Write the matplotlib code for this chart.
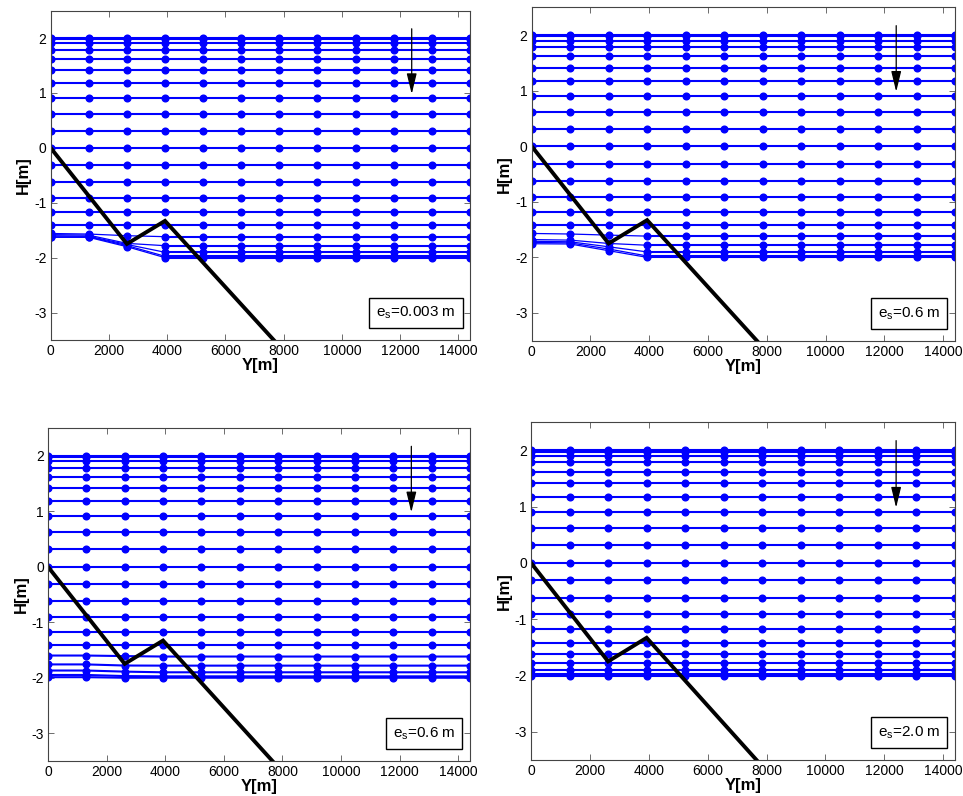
import matplotlib
matplotlib.use("Agg")
import matplotlib.pyplot as plt

plt.rcParams['font.family'] = ['Liberation Sans', 'DejaVu Sans']
plt.rcParams['mathtext.fontset'] = 'custom'
plt.rcParams['mathtext.rm'] = 'Liberation Sans'
plt.rcParams['axes.unicode_minus'] = False

# ---------- data ----------
# grid nodes along the section [m]
Y_NODES = [0, 1309, 2618, 3927, 5236, 6545, 7855, 9164, 10473, 11782, 13091, 14400]

# water levels [m]
LEVELS = [2.0, 1.975, 1.902, 1.782, 1.618, 1.414, 1.176, 0.908, 0.618, 0.313, 0.0,
          -0.313, -0.618, -0.908, -1.176, -1.414, -1.618, -1.782, -1.902, -1.975, -2.0]

# bed profile
BED_Y = [0, 2618, 3927, 7660]
BED_H = [0.0, -1.75, -1.33, -3.5]

# heads of the five lowest levels at the first three nodes, per case
NEAR_003 = [[-1.56, -1.57, -1.60],
            [-1.58, -1.59, -1.74],
            [-1.60, -1.61, -1.76],
            [-1.62, -1.62, -1.78],
            [-1.63, -1.63, -1.80]]
NEAR_06A = [[-1.57, -1.58, -1.60],
            [-1.68, -1.69, -1.75],
            [-1.71, -1.72, -1.81],
            [-1.73, -1.74, -1.85],
            [-1.755, -1.76, -1.88]]
NEAR_06B = [[-1.60, -1.60, -1.61],
            [-1.76, -1.76, -1.78],
            [-1.87, -1.87, -1.89],
            [-1.95, -1.95, -1.97],
            [-1.99, -1.99, -2.0]]
NEAR_20 = None

CASE_LABELS = ["0.003", "0.6", "0.6", "2.0"]
CASE_NEAR = [NEAR_003, NEAR_06A, NEAR_06B, NEAR_20]
CASE_THIN = [True, True, False, False]

X_TICKS = [0, 2000, 4000, 6000, 8000, 10000, 12000, 14000]
H_TICKS = [-3, -2, -1, 0, 1, 2]

# axes boxes in figure fractions
AX_POS = [[0.0526, 0.5729, 0.4354, 0.4137],
          [0.5521, 0.5720, 0.4396, 0.4188],
          [0.0498, 0.0440, 0.4382, 0.4183],
          [0.5514, 0.0452, 0.4403, 0.4246]]

BLUE = '#0000ff'

fig = plt.figure(figsize=(9.63, 7.96), dpi=100)

for pos, lab, near, thin in zip(AX_POS, CASE_LABELS, CASE_NEAR, CASE_THIN):
    ax = fig.add_axes(pos)
    n_low = len(LEVELS) - 5
    for i, h in enumerate(LEVELS):
        heads = [h] * len(Y_NODES)
        if near is not None and i >= n_low:
            heads[:3] = near[i - n_low]
        if thin and i >= n_low:
            # bent reach near the shore drawn thinner
            ax.plot(Y_NODES[:4], heads[:4], '-', color=BLUE, lw=0.9)
            ax.plot(Y_NODES[3:], heads[3:], '-', color=BLUE, lw=1.5)
            ax.plot(Y_NODES, heads, 'o', color=BLUE, ms=4.8)
        else:
            ax.plot(Y_NODES, heads, '-', color=BLUE, lw=1.5,
                    marker='o', ms=4.8, mec=BLUE, mfc=BLUE)
    ax.plot(BED_Y, BED_H, '-', color='black', lw=2.8, solid_joinstyle='miter')

    ax.annotate('', xy=(12400, 0.98), xytext=(12400, 2.17),
                arrowprops=dict(arrowstyle='-|>,head_length=0.7,head_width=0.17',
                                color='black', lw=0.9, mutation_scale=18,
                                shrinkA=0, shrinkB=0))

    ax.text(0.966, 0.082, 'e$_\\mathregular{s}$=' + lab + ' m', transform=ax.transAxes,
            ha='right', va='center', fontsize=11,
            bbox=dict(boxstyle='square,pad=0.45', fc='white', ec='black', lw=1.0))

    ax.set_xlim(0, 14400)
    ax.set_ylim(-3.5, 2.5)
    ax.set_xticks(X_TICKS)
    ax.set_yticks(H_TICKS)
    ax.tick_params(direction='in', top=True, right=True, labelsize=10, length=4,
                   width=0.6, color='#555555', pad=3)
    for sp in ax.spines.values():
        sp.set_color('#444444')
        sp.set_linewidth(0.8)
    ax.set_xlabel('Y[m]', fontsize=12, fontweight='bold', labelpad=0)
    ax.set_ylabel('H[m]', fontsize=12, fontweight='bold', labelpad=2)

fig.savefig('out.png', dpi=100, facecolor='white')
